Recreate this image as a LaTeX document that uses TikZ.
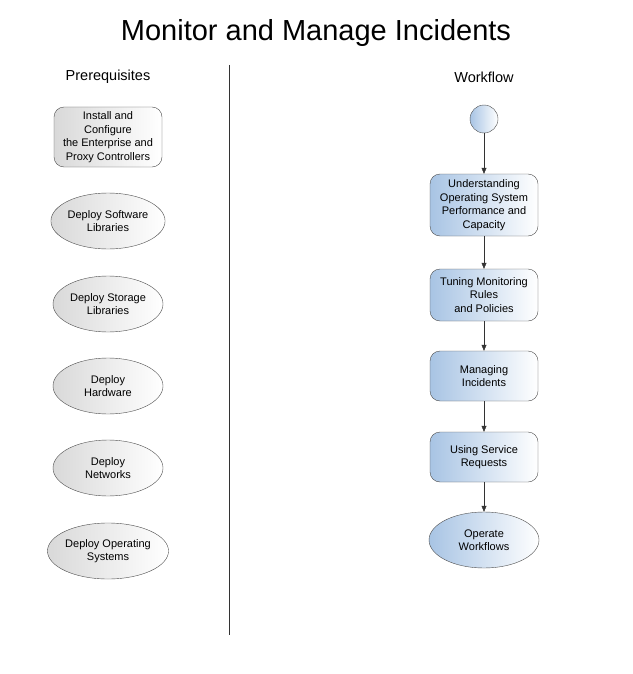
\documentclass[tikz,border=0pt]{standalone}
\usepackage{fontspec}
\setmainfont{Liberation Sans}
\usetikzlibrary{shapes.geometric,arrows.meta}
\definecolor{flowblue}{RGB}{168,196,228}
\tikzset{
	prereq/.style = {draw=black!70, left color=gray!30, right color=white, align=center,
		font=\fontsize{11}{13.5}\selectfont},
	task/.style = {draw=black!70, left color=flowblue, right color=white,
		rounded corners=10pt, minimum width=108pt, align=center, font=\fontsize{11}{13.5}\selectfont},
	oval/.style = {ellipse, minimum width=110pt, minimum height=56pt, inner sep=0pt},
	flow/.style = {draw=black!80, -{Triangle[length=6pt,width=5pt]}}
}
\begin{document}
\begin{tikzpicture}[x=1pt, y=-1pt]
		\useasboundingbox (0, 0) rectangle (632, 674);
		\node [font=\fontsize{29}{33}\selectfont] (title) at (316, 33) {Monitor and Manage Incidents};
		\node [font=\fontsize{14.5}{17}\selectfont] (prehead) at (108, 77) {Prerequisites};
		\node [font=\fontsize{14.5}{17}\selectfont] (flowhead) at (484, 77) {Workflow};
		\coordinate (divtop) at (229, 65);
		\coordinate (divbot) at (229, 635);
		\draw [black!80] (divtop) -- (divbot);
		% prerequisites
		\node [prereq, rounded corners=10pt, minimum width=108pt, minimum height=60pt, inner sep=1pt] (install) at (108, 137)
			{Install and\\Configure\\the Enterprise and\\Proxy Controllers};
		\node [prereq, oval] (software) at (108, 221) {Deploy Software\\Libraries};
		\node [prereq, oval] (storage) at (108, 304) {Deploy Storage\\Libraries};
		\node [prereq, oval] (hardware) at (108, 386) {Deploy\\Hardware};
		\node [prereq, oval] (networks) at (108, 468) {Deploy\\Networks};
		\node [prereq, oval] (opsys) at (108, 551) {Deploy Operating\\Systems};
		% workflow
		\node [task, circle, minimum width=28pt, inner sep=0pt] (start) at (484, 119) {};
		\node [task, minimum height=62pt, inner sep=1pt] (understand) at (484, 205)
			{Understanding\\Operating System\\Performance and\\Capacity};
		\node [task, minimum height=52pt] (tuning) at (484, 295) {Tuning Monitoring\\Rules\\and Policies};
		\node [task, minimum height=50pt] (managing) at (484, 376) {Managing\\Incidents};
		\node [task, minimum height=50pt] (service) at (484, 457) {Using Service\\Requests};
		\node [task, oval, rounded corners=0pt] (operate) at (484, 540) {Operate\\Workflows};
		\draw [flow] (start) -- (understand);
		\draw [flow] (understand) -- (tuning);
		\draw [flow] (tuning) -- (managing);
		\draw [flow] (managing) -- (service);
		\draw [flow] (service) -- (operate);
	\end{tikzpicture}
\end{document}
